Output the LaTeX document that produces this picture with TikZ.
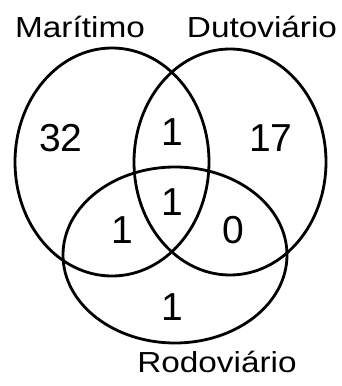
\documentclass[tikz,border=0pt]{standalone}
\usepackage{fontspec}
\setmainfont{Liberation Sans}
\newfontfamily\setnamefont{Liberation Sans}[FakeStretch=1.15]
\usetikzlibrary{positioning}

\begin{document}
\begin{tikzpicture}[x=1pt, y=-1pt, line width=2.8pt,
    setlabel/.style={font=\setnamefont\fontsize{29}{31}\selectfont, inner sep=0pt, anchor=base},
    count/.style={font=\fontsize{39}{42}\selectfont, inner sep=0pt}]

    \useasboundingbox (0,0) rectangle (341,386);

    % --- Set centres ---
    \coordinate (mar) at (112,162);
    \coordinate (dut) at (230,162);
    \coordinate (rod) at (175,255);

    % --- Sets ---
    \draw (mar) ellipse [x radius=97, y radius=114];
    \draw (dut) ellipse [x radius=96, y radius=113];
    \draw (rod) ellipse [x radius=112, y radius=88];

    % --- Set names ---
    \node[setlabel] (lmar) at (80,37) {Marítimo};
    \node[setlabel] (ldut) at (262,37) {Dutoviário};
    \node[setlabel] (lrod) at (217,372) {Rodoviário};

    % --- Counts ---
    \node[count] (nm)   at (61,138)  {32};
    \node[count] (nd)   at (271,138) {17};
    \node[count] (nmd)  at (172,132) {1};
    \node[count] (nall) at (172,202) {1};
    \node[count] (nmr)  at (122,230) {1};
    \node[count] (ndr)  at (233,230) {0};
    \node[count] (nr)   at (172,307) {1};

\end{tikzpicture}
\end{document}
